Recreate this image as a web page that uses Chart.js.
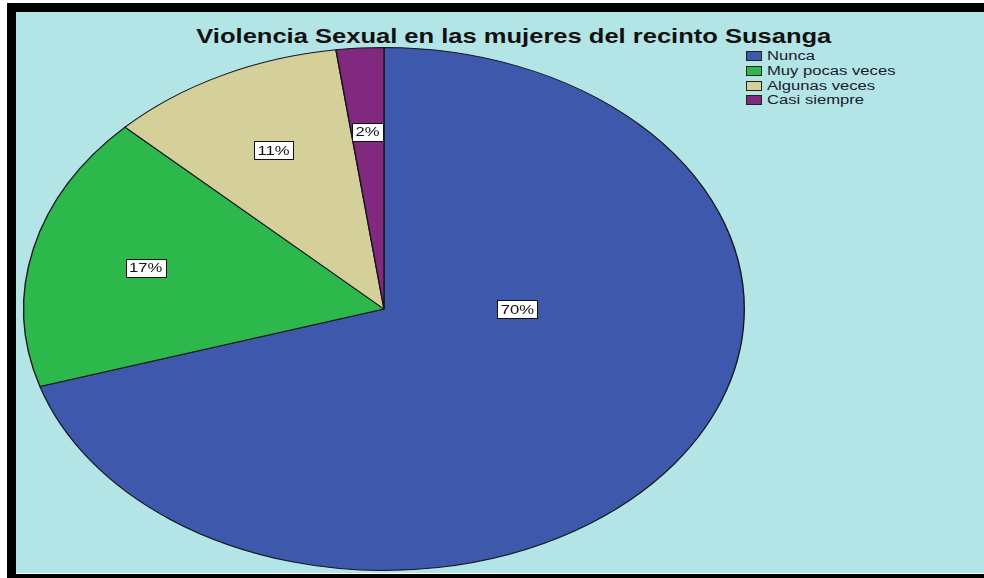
<!doctype html>
<html>

<head>
    <title>Violencia Sexual</title>
    <script src="https://cdn.jsdelivr.net/npm/chart.js"></script>
    <style>
        body { margin: 0; background: #fff; width: 984px; height: 578px; position: relative; overflow: hidden; font-family: "Liberation Sans", Arial, sans-serif; }
        #marco { position: absolute; left: 7px; top: 3px; width: 977px; height: 575px; background: #000; }
        #fondo { position: absolute; left: 16px; top: 12px; width: 968px; height: 561px; background: #b4e5e6; border-bottom: 1px solid #fff; }
        #grafico { position: absolute; left: 0; top: 0; }
        #titulo { position: absolute; top: 25px; white-space: nowrap; font-weight: bold; font-size: 20px; color: #111; transform-origin: center top; }
        #leyenda { position: absolute; left: 746px; top: 51px; }
        .item { position: absolute; left: 0; height: 12px; white-space: nowrap; }
        .caja { position: absolute; left: 0; top: 0; width: 14px; height: 8px; border: 1px solid #222; }
        .texto { position: absolute; left: 21px; top: -2px; font-size: 12.5px; color: #1a1a2a; transform: scaleX(1.33); transform-origin: left top; }
    </style>
</head>

<body>
    <div id="marco"></div>
    <div id="fondo"></div>
    <div id="titulo">Violencia Sexual en las mujeres del recinto Susanga</div>
    <div id="leyenda"></div>
    <canvas id="grafico" width="984" height="578"></canvas>

    <script>
        var categorias = ['Nunca', 'Muy pocas veces', 'Algunas veces', 'Casi siempre'];
        var frecuencias = [33, 8, 5, 1];
        var colores = ['#3e58ac', '#2db84b', '#d5cf99', '#80297f'];

        // la torta de SPSS esta estirada a lo ancho
        var estiramiento = 361 / 262;

        // titulo estirado al ancho del original
        var titulo = document.getElementById('titulo');
        var anchoTitulo = titulo.getBoundingClientRect().width;
        titulo.style.left = (514 - anchoTitulo / 2) + 'px';
        titulo.style.transform = 'scaleX(' + (635 / anchoTitulo) + ')';

        var leyenda = document.getElementById('leyenda');
        categorias.forEach(function (cat, i) {
            var item = document.createElement('div');
            item.className = 'item';
            item.style.top = (i * 14.8) + 'px';
            item.innerHTML = '<div class="caja" style="background:' + colores[i] + '"></div><div class="texto">' + cat + '</div>';
            leyenda.appendChild(item);
        });

        var elipse = {
            id: 'elipse',
            beforeDatasetsDraw(chart) {
                var arco = chart.getDatasetMeta(0).data[0];
                var ctx = chart.ctx;
                ctx.save();
                ctx.translate(arco.x, arco.y);
                ctx.scale(estiramiento, 1);
                ctx.translate(-arco.x, -arco.y);
            },
            afterDatasetsDraw(chart) {
                var ctx = chart.ctx;
                ctx.restore();

                var total = frecuencias.reduce((a, b) => a + b, 0);
                chart.getDatasetMeta(0).data.forEach(function (arco, i) {
                    var medio = (arco.startAngle + arco.endAngle) / 2;
                    var f = 0.68;
                    if (arco.endAngle - arco.startAngle > Math.PI) {
                        // SPSS pone la etiqueta de la porcion grande a la derecha del centro
                        medio = 0;
                        f = 0.37;
                    }
                    var x = arco.x + estiramiento * f * arco.outerRadius * Math.cos(medio);
                    var y = arco.y + f * arco.outerRadius * Math.sin(medio);
                    var texto = Math.round(frecuencias[i] / total * 100) + '%';

                    ctx.save();
                    ctx.font = '13px "Liberation Sans", Arial, sans-serif';
                    var w = Math.round(ctx.measureText(texto).width * 1.28 + 7);
                    var h = 18;
                    var bx = Math.round(x - w / 2) + 0.5;
                    var by = Math.round(y - h / 2) + 0.5;
                    ctx.fillStyle = '#fff';
                    ctx.strokeStyle = '#111';
                    ctx.lineWidth = 1;
                    ctx.fillRect(bx, by, w, h);
                    ctx.strokeRect(bx, by, w, h);
                    ctx.translate(x, y + 1);
                    ctx.scale(1.28, 1);
                    ctx.fillStyle = '#111';
                    ctx.textAlign = 'center';
                    ctx.textBaseline = 'middle';
                    ctx.fillText(texto, 0, 0);
                    ctx.restore();
                });
            }
        };

        var grafico = new Chart(document.getElementById('grafico').getContext('2d'), {
            type: 'pie',
            data: {
                labels: categorias,
                datasets: [{
                    data: frecuencias,
                    backgroundColor: colores,
                    borderColor: '#16161f',
                    borderWidth: 1
                }]
            },
            options: {
                responsive: false,
                animation: false,
                layout: {
                    padding: { top: 47, bottom: 7, left: 122, right: 338 }
                },
                plugins: {
                    legend: { display: false },
                    tooltip: { enabled: false }
                }
            },
            plugins: [elipse]
        });
    </script>
</body>

</html>
